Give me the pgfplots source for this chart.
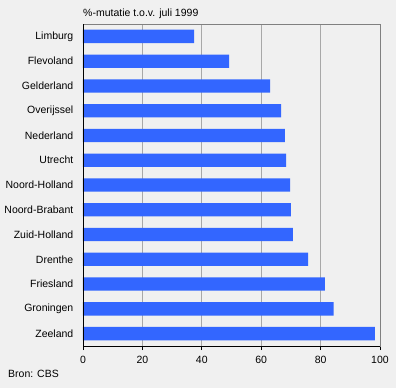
\documentclass[border=0pt]{standalone}
\usepackage{pgfplots}
\pgfplotsset{compat=1.18}
\usepackage{fontspec}
\setmainfont{Liberation Sans}
\definecolor{bg}{HTML}{F0F0F0}
\definecolor{barblue}{HTML}{3366FF}
\definecolor{gridgray}{HTML}{A8A8A8}
\definecolor{framegray}{HTML}{808080}
\begin{document}
\fontsize{10.5bp}{12bp}\selectfont
\begin{tikzpicture}
\fill[bg] (-83bp,-42bp) rectangle (313bp,346bp);
\useasboundingbox (-83bp,-42bp) rectangle (313bp,346bp);
\begin{axis}[
  at={(0,0)}, anchor=south west,
  scale only axis, width=297bp, height=322bp,
  xbar, bar width=13.3bp,
  xmin=0, xmax=100, ymin=-0.5, ymax=12.5,
  y dir=reverse,
  xtick={0,20,...,100},
  ytick={0,...,12},
  yticklabels={Limburg,Flevoland,Gelderland,Overijssel,Nederland,Utrecht,Noord-Holland,Noord-Brabant,Zuid-Holland,Drenthe,Friesland,Groningen,Zeeland},
  minor ytick={-0.5,0.5,...,12.5},
  ytick pos=left, xtick pos=bottom,
  tick align=outside,
  major tick length=4bp, minor tick length=4bp,
  ytick style={draw=none},
  minor tick style={draw=black, line width=0.8pt},
  xtick style={draw=black, line width=0.8pt},
  xmajorgrids, major grid style={gridgray, line width=0.8pt},
  axis line style={framegray, line width=0.8pt},
  tick label style={font=\fontsize{10.5bp}{12bp}\selectfont},
  /pgf/number format/assume math mode=true,
  yticklabel style={xshift=-2bp},
  xticklabel style={yshift=-2bp},
  axis background/.style={fill=bg},
]
\addplot[fill=barblue, draw=none] coordinates {
(37.4,0) (49.2,1) (63.0,2) (66.7,3) (68.0,4) (68.4,5) (69.7,6) (70.0,7) (70.7,8) (75.8,9) (81.4,10) (84.4,11) (98.3,12)};
\draw[black, line width=0.8pt] (axis description cs:0,1) -- (axis description cs:0,0) -- (axis description cs:1,0);
\end{axis}
\node[anchor=base west, inner sep=0pt] at (0bp,329bp) {\%-mutatie t.o.v. juli 1999};
\node[anchor=base west, inner sep=0pt] at (-75bp,-31bp) {Bron: CBS};
\end{tikzpicture}
\end{document}
